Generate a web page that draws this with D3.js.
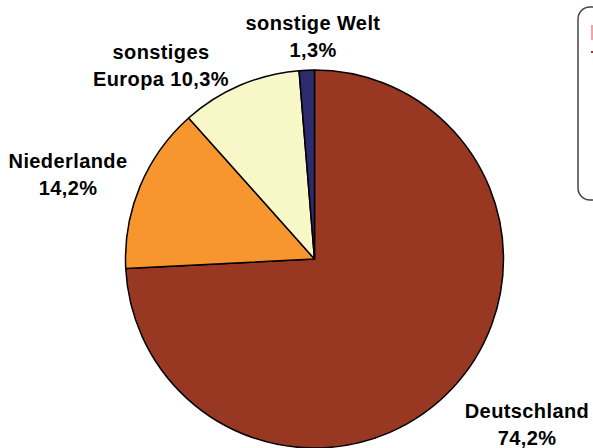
<!DOCTYPE html>
<html>
<head>
<meta charset="utf-8">
<script src="https://cdn.jsdelivr.net/npm/d3@7"></script>
<style>
  body { margin: 0; background: #fff; }
  svg { display: block; }
  text { font-family: "Liberation Sans", Arial, sans-serif; font-weight: bold; font-size: 20px; letter-spacing: 0.4px; fill: #000; }
</style>
</head>
<body>
<svg id="chart" width="593" height="448"></svg>
<script>
// shares of the pie, clockwise from 12 o'clock
var labels = ["Deutschland", "Niederlande", "sonstiges Europa", "sonstige Welt"];
var shares = [74.2, 14.2, 10.3, 1.3];
var colors = ["#993822", "#F7962F", "#F8F7C8", "#2E2A6E"];
// label text, two lines each
var labelLines = [
  ["Deutschland", "74,2%"],
  ["Niederlande", "14,2%"],
  ["sonstiges", "Europa 10,3%"],
  ["sonstige Welt", "1,3%"]
];
// label anchor (first line baseline)
var labelPos = [[527, 418], [68, 168], [161, 59], [313, 30]];

var svg = d3.select("#chart");
var cx = 314.5, cy = 259, r = 189;

var pie = d3.pie().sort(null).value(function(d){ return d; });
var arc = d3.arc().innerRadius(0).outerRadius(r);

var g = svg.append("g").attr("transform", "translate(" + cx + "," + cy + ")");
g.selectAll("path")
  .data(pie(shares))
  .enter()
  .append("path")
    .attr("d", arc)
    .attr("fill", function(d, i){ return colors[i] })
    .attr("stroke", "#000")
    .attr("stroke-width", 1.5)
    .attr("stroke-linejoin", "round");

// labels
labelLines.forEach(function(lines, i) {
  var t = svg.append("text")
    .attr("x", labelPos[i][0])
    .attr("y", labelPos[i][1])
    .attr("text-anchor", "middle");
  lines.forEach(function(s, j) {
    t.append("tspan")
      .attr("x", labelPos[i][0])
      .attr("dy", j == 0 ? 0 : 27)
      .text(s);
  });
});

// legend box, mostly off the right edge
svg.append("rect")
  .attr("x", 578).attr("y", 7)
  .attr("width", 60).attr("height", 193)
  .attr("rx", 12)
  .attr("fill", "#fff")
  .attr("stroke", "#444")
  .attr("stroke-width", 1.5);
svg.append("rect")
  .attr("x", 591).attr("y", 25).attr("width", 3).attr("height", 15)
  .attr("fill", "#f2a4a4");
svg.append("rect")
  .attr("x", 591).attr("y", 51).attr("width", 3).attr("height", 2)
  .attr("fill", "#d62020");
</script>
</body>
</html>
